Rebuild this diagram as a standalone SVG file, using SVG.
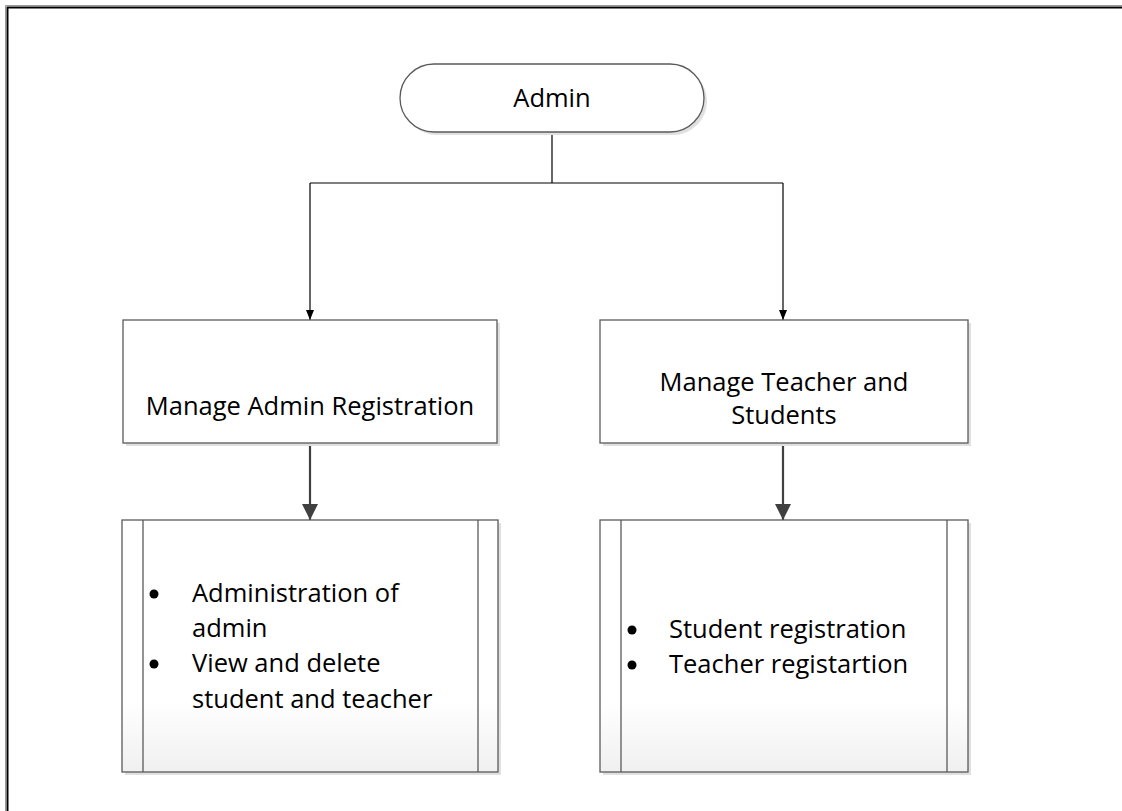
<svg xmlns="http://www.w3.org/2000/svg" width="1122" height="811" viewBox="0 0 1122 811">
<style>
text{font-family:"Open Sans","Liberation Sans",sans-serif;font-size:25.5px;fill:#000}
.box{fill:#fff;stroke:#5a5a5a;stroke-width:1.3}
.gbox{fill:url(#g);stroke:#5a5a5a;stroke-width:1.3}
.shadow{fill:#e0e0e0}
.thin{stroke:#000;stroke-width:1.2;fill:none}
.thick{stroke:#404040;stroke-width:2.2;fill:none}
.inner{stroke:#5a5a5a;stroke-width:1.3}
.c{text-anchor:middle}
</style>
<defs>
<linearGradient id="g" x1="0" y1="0" x2="0" y2="1">
<stop offset="0.72" stop-color="#ffffff"/>
<stop offset="1" stop-color="#f0f0f0"/>
</linearGradient>
<marker id="small" markerWidth="10" markerHeight="8" refX="10" refY="4" orient="auto" markerUnits="userSpaceOnUse" viewBox="0 0 10 8">
<path d="M0,0 L10,4 L0,8 Z" fill="#000"/>
</marker>
<marker id="big" markerWidth="16" markerHeight="16" refX="16" refY="8" orient="auto" markerUnits="userSpaceOnUse" viewBox="0 0 16 16">
<path d="M0,0 L16,8 L0,16 Z" fill="#404040"/>
</marker>
</defs>
<rect width="1122" height="811" fill="#fff"/>
<path d="M5.5,811 V5.5 H1122" fill="none" stroke="#999" stroke-width="1"/>
<path d="M7.5,811 V7.5 H1122" fill="none" stroke="#000" stroke-width="2"/>

<g id="connectors">
<path class="thin" d="M552,132 V183"/>
<path class="thin" d="M310,183 H783"/>
<path class="thin" d="M310,183 V320" marker-end="url(#small)"/>
<path class="thin" d="M783,183 V320" marker-end="url(#small)"/>
<path class="thick" d="M310,443 V520" marker-end="url(#big)"/>
<path class="thick" d="M783,443 V520" marker-end="url(#big)"/>
</g>

<g id="admin">
<rect class="shadow" x="403" y="67" width="304" height="68" rx="34"/>
<rect class="box" x="400" y="64" width="304" height="68" rx="34"/>
<text class="c" x="552" y="107">Admin</text>
</g>

<g id="manage-admin">
<rect class="shadow" x="126" y="323" width="374" height="123"/>
<rect class="box" x="123" y="320" width="374" height="123"/>
<text class="c" x="310" y="415">Manage Admin Registration</text>
</g>

<g id="manage-teacher">
<rect class="shadow" x="603" y="323" width="368" height="123"/>
<rect class="box" x="600" y="320" width="368" height="123"/>
<text class="c" x="784" y="391">Manage Teacher and</text>
<text class="c" x="784" y="424">Students</text>
</g>

<g id="admin-tasks">
<rect class="shadow" x="125" y="523" width="376" height="252"/>
<rect class="gbox" x="122" y="520" width="376" height="252"/>
<line class="inner" x1="143" y1="520" x2="143" y2="772"/>
<line class="inner" x1="478" y1="520" x2="478" y2="772"/>
<circle cx="154" cy="594" r="4.5"/>
<text x="192" y="602">Administration of</text>
<text x="192" y="637">admin</text>
<circle cx="154" cy="664" r="4.5"/>
<text x="192" y="672">View and delete</text>
<text x="192" y="708">student and teacher</text>
</g>

<g id="teacher-tasks">
<rect class="shadow" x="603" y="523" width="368" height="252"/>
<rect class="gbox" x="600" y="520" width="368" height="252"/>
<line class="inner" x1="621" y1="520" x2="621" y2="772"/>
<line class="inner" x1="947" y1="520" x2="947" y2="772"/>
<circle cx="632" cy="630" r="4.5"/>
<text x="669" y="638">Student registration</text>
<circle cx="632" cy="665" r="4.5"/>
<text x="669" y="673">Teacher registartion</text>
</g>
</svg>
